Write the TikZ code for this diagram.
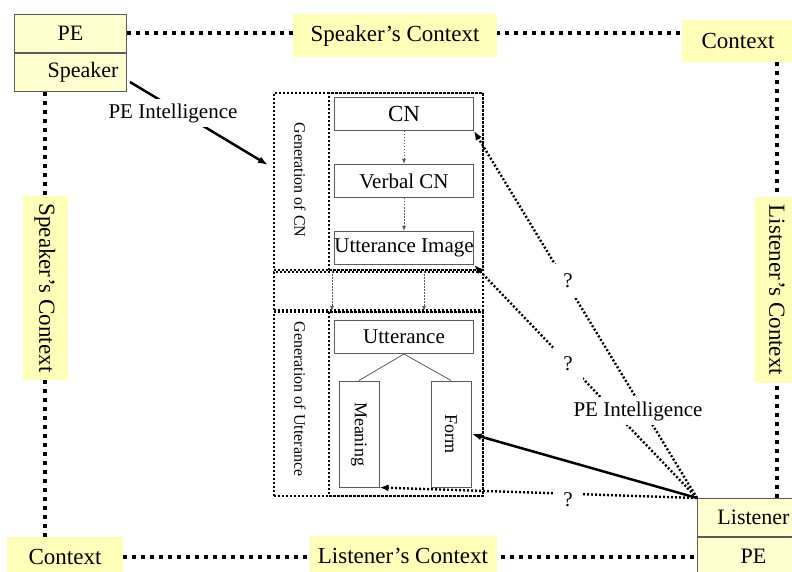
\documentclass[tikz,border=0pt]{standalone}
\usepackage{fontspec}
\setmainfont{Liberation Serif}
\usepackage{tikz}
\usetikzlibrary{arrows.meta}
\usetikzlibrary{positioning}
\usetikzlibrary{backgrounds}
\definecolor{myellow}{RGB}{255, 255, 185}
\definecolor{mpale}{RGB}{255, 255, 208}
\definecolor{mgray}{RGB}{90, 90, 90}
\tikzset{
    ctxlabel/.style={fill=myellow, inner sep=0pt, font=\fontsize{23}{27}\selectfont},
    ctxline/.style={line width=4pt, dash pattern=on 4pt off 5pt},
    pebox/.style={draw=mgray, fill=mpale, line width=1pt, minimum width=112pt, minimum height=38pt, font=\fontsize{22}{26}\selectfont},
    secbox/.style={draw, line width=2pt, dash pattern=on 2pt off 2pt, inner sep=0pt},
    stagebox/.style={draw=mgray, line width=1pt, inner sep=0pt, font=\fontsize{21}{25}\selectfont},
    steparrow/.style={-{Latex[length=5pt, width=4pt]}, draw=mgray, line width=0.8pt, dash pattern=on 1.5pt off 1.5pt},
    guess/.style={-{Latex[length=9pt, width=7pt]}, line width=2.4pt, dash pattern=on 2pt off 2pt},
    pearrow/.style={-{Latex[length=10pt, width=7pt]}, line width=2.5pt},
    tag/.style={fill=white, inner sep=4pt, font=\fontsize{21}{25}\selectfont},
    qtag/.style={fill=white, inner sep=10pt, font=\fontsize{21}{25}\selectfont},
}

\begin{document}
\begin{tikzpicture}[x=1pt, y=-1pt]
    \useasboundingbox (0, 0) rectangle (792, 572);

    \node[pebox, anchor=north west] (spkpe) at (14, 14) {PE};
    \node[pebox, anchor=north, text width=96pt, align=right] (spkname) at (spkpe.south) {Speaker};
    \node[pebox, anchor=north west] (lisname) at (697, 498) {Listener};
    \node[pebox, anchor=north] (lispe) at (lisname.south) {PE};

    \node[ctxlabel, minimum width=204pt, minimum height=43pt] (ctxtop) at (395, 36) {Speaker's Context};
    \node[ctxlabel, minimum width=112pt, minimum height=42pt] (ctxtr) at (738, 41) {Context};
    \node[ctxlabel, rotate=-90, minimum width=185pt, minimum height=45pt] (ctxrt) at (777, 290) {Listener's Context};
    \node[ctxlabel, rotate=-90, minimum width=183pt, minimum height=45pt] (ctxlf) at (45, 288) {Speaker's Context};
    \node[ctxlabel, minimum width=116pt, minimum height=40pt] (ctxbl) at (65, 557) {Context};
    \node[ctxlabel, minimum width=187pt, minimum height=40pt] (ctxbt) at (403, 556) {Listener's Context};

    \begin{scope}[on background layer]
        \draw[ctxline] (spkpe.east) -- (spkpe.east -| ctxtr.west);
        \draw[ctxline] (ctxtr.south -| ctxrt.center) -- (lisname.north -| ctxrt.center);
        \draw[ctxline] (spkname.south -| ctxlf.center) -- (ctxbl.north -| ctxlf.center);
        \draw[ctxline] (ctxbl.east) -- (ctxbl.east -| lispe.west);
    \end{scope}

    \node[secbox, anchor=north west, minimum width=209pt, minimum height=177pt] (cnsec) at (273, 92) {};
    \node[secbox, anchor=north east, minimum width=154pt, minimum height=177pt] (cnin) at (cnsec.north east) {};
    \node[secbox, anchor=north west, minimum width=209pt, minimum height=38pt] (gapsec) at (cnsec.south west) {};
    \node[secbox, anchor=north west, minimum width=209pt, minimum height=184pt] (uttsec) at (gapsec.south west) {};
    \node[secbox, anchor=north east, minimum width=154pt, minimum height=184pt] (uttin) at (uttsec.north east) {};

    \node[rotate=-90, font=\fontsize{16}{19}\selectfont] (cnlab) at (300, 180) {Generation of CN};
    \node[rotate=-90, font=\fontsize{16}{19}\selectfont] (uttlab) at (300, 399) {Generation of Utterance};

    \node[stagebox, minimum width=139pt, minimum height=33pt, font=\fontsize{23}{27}\selectfont] (cn) at (404, 114) {CN};
    \node[stagebox, minimum width=139pt, minimum height=33pt, below=33pt of cn] (vcn) {Verbal CN};
    \node[stagebox, minimum width=139pt, minimum height=33pt, below=33pt of vcn] (uimg) {Utterance Image};
    \node[stagebox, minimum width=139pt, minimum height=33pt] (utt) at (404, 337) {Utterance};
    \node[stagebox, minimum width=40pt, minimum height=106pt, font=\fontsize{18}{21}\selectfont] (mean) at (359, 434) {\rotatebox{-90}{Meaning}};
    \node[stagebox, minimum width=40pt, minimum height=106pt, font=\fontsize{18}{21}\selectfont] (form) at (451, 434) {\rotatebox{-90}{Form}};

    \draw[steparrow] (cn) -- (vcn);
    \draw[steparrow] (vcn) -- (uimg);
    \draw[steparrow] ([xshift=59pt]gapsec.north west) -- ([xshift=59pt]gapsec.south west);
    \draw[steparrow] ([xshift=151pt]gapsec.north west) -- ([xshift=151pt]gapsec.south west);
    \draw[mgray, line width=0.8pt] (utt.south) -- (mean.north);
    \draw[mgray, line width=0.8pt] (utt.south) -- (form.north);

    \coordinate (spkout) at (130, 82);
    \coordinate (cnentry) at (268, 165);
    \draw[pearrow] (spkout) -- (cnentry);
    \draw[guess] (lisname.north west) -- (cn.south east);
    \draw[guess] (lisname.north west) -- (uimg.south east);
    \draw[guess] (lisname.north west) -- (mean.south east);
    \draw[pearrow] (lisname.north west) -- (form.east);

    \node[tag] (spkint) at (173, 113) {PE Intelligence};
    \node[tag] (lisint) at (638, 411) {PE Intelligence};
    \node[qtag] (q1) at (568, 281) {?};
    \node[qtag] (q2) at (568, 364) {?};
    \node[qtag] (q3) at (568, 500) {?};
\end{tikzpicture}
\end{document}
